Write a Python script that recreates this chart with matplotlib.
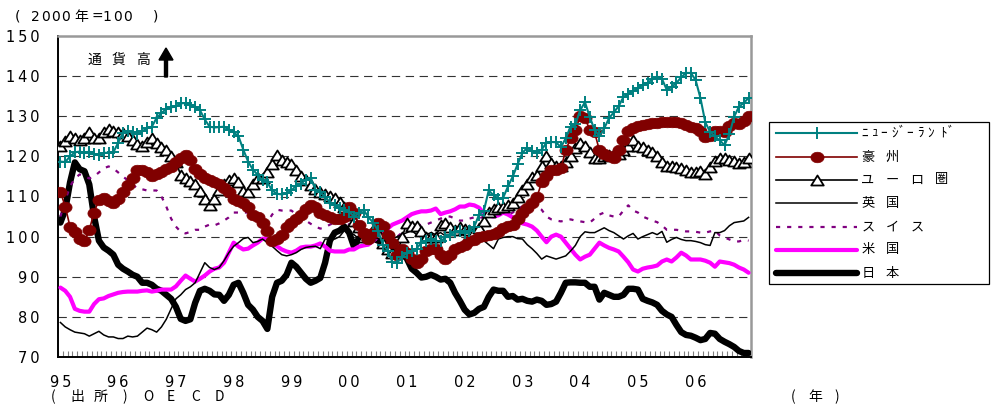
import numpy as np
import matplotlib
matplotlib.use("Agg")
import matplotlib.pyplot as plt
from matplotlib.path import Path
from matplotlib.lines import Line2D
from matplotlib.patches import Rectangle, FancyArrow

plt.rcParams['lines.scale_dashes'] = False

# ---- data: monthly effective exchange rate index (2000 = 100), Jan 1995 - Dec 2006
years = ['95', '96', '97', '98', '99', '00', '01', '02', '03', '04', '05', '06']

nz = [118.7,118.6,120,121,121.2,120.9,121.2,120.5,120.4,120.9,120.9,121,
      123.4,125.9,126.2,126,125.5,126.2,127.1,127.4,129.6,130.8,131.8,132.2,
      132.5,133.2,133.3,132.8,132.3,131.5,129.2,127.4,127.2,127.3,127.4,126.6,
      126,125,121.7,118.7,116.7,115.4,114,113.5,111.5,110.7,110.5,110.8,
      111.5,112.7,113.2,114.2,114.7,111.7,111,110,108.5,107.8,107.2,106.7,
      106.2,105,105.8,106.7,104.8,103.5,101.5,98,96.5,93.6,93.5,95,
      96,96.5,97,98.5,99,99.3,99,98.8,99.8,100.5,101.2,101.3,
      101,101.4,102.5,105.5,106.5,111.5,110.3,109.5,109.7,112.5,115,118,
      120.9,122.1,121.3,120.9,121.7,123.4,123.6,123.5,122.3,124.5,127.4,128,
      131.5,133.5,129.8,126.6,125,127,129.5,131,132.5,134.8,135.6,136.3,
      137,137.8,138.3,139.2,139.7,139.3,136.6,137.3,138.3,139.7,140.8,140.8,
      139,134.5,128.5,126.1,125,124,122.8,125.5,129.9,132.4,133.3,134.6]

aus = [111.2,107.5,102.5,101.2,99.5,98.8,101.7,106,109.2,109.6,109,108.5,
       109.5,111,112.8,114.5,116.7,116.7,116,115,115.5,116,116.8,117.3,
       118.5,119.5,120.4,119,116.8,115.5,114.5,114,113.5,113,112,111,
       109.5,109,108.5,107.5,105.5,104.8,103.5,101.5,99,99.5,100.5,102.5,
       103.5,104.5,105.5,107,107.8,107.3,105.8,105.5,105,104.5,104.3,105,
       107.3,106,103,101,99.3,101,103.5,102.6,100.5,98.5,95.5,97,
       96,94.4,93.5,94.5,96.5,96.8,96.8,95.5,94.4,95.5,96.8,97.4,
       98,98.8,99.2,99.8,100.2,100.4,100.7,101.2,102.2,102.7,103,104.5,
       106,107.2,108.5,109.8,113.5,115,116.7,116.7,117,121.5,124.5,126.5,
       130,129.5,126.6,126,121.5,120.5,120,119.5,121.5,124,126.4,127,
       127.6,127.9,128,128.3,128.4,128.5,128.6,128.6,128.5,128.2,127.9,127.4,
       127,126.2,124.8,125,126.3,126.2,126,127.5,128.3,128,128.8,130]

euro = [122.5,123.8,125,124.5,124.2,124.5,126,124.5,124.5,126,126.7,126.2,
        126,125.8,125,124,123,122.5,123.5,124.5,123.4,122.4,121.5,120,
        118.5,115.4,114.5,113.8,113,111.3,109.5,107.8,109.5,111.5,113,114.2,
        114.5,113.5,111.3,111,113,114.5,114.7,116,118,120.4,119,118.5,
        118,116.5,115.2,114,112.8,111.8,111,110.5,110.2,109.7,108.7,107.5,
        105.5,104,102.3,100,100.5,101.7,101,98.3,96.8,96,95.8,99.8,
        103.5,102.6,102.6,101.5,99.8,99.8,99.8,103,103.5,102.5,101.7,102.3,
        102,101.7,101.2,102.2,103.8,106.2,107,107.5,107.5,108,108.4,110,
        111.5,113,114.8,115.4,117.5,120,118.4,117.5,117.5,118.5,120,122,
        123.4,122.5,121,119.6,119.7,120,120.3,120.5,120.5,121.5,122.6,124,
        122.6,122.3,121.7,121,120,118.5,117.5,117.5,117.4,117.2,116.5,116.2,
        116.2,116.4,115.5,117.3,118.8,119.5,119.7,119.2,118.8,118.4,118.6,119.5]

uk = [78.6,77.5,76.8,76.2,76,75.8,75.2,75.8,76.4,75.5,75,75,
      74.6,74.6,75.2,75,75.2,76.2,77.2,76.8,76.2,77.5,79.4,82,
      84.5,85.5,86.8,87.5,88.5,91,93.5,92.3,91.8,92.3,94,96,
      97.6,98.5,99.5,99.8,98.5,98.8,99.4,98.5,97.6,96.5,95.5,95.2,
      95.5,96,96.8,97.3,97.5,97.6,97,99.4,99.4,99.4,100,101.5,
      101,100.5,99.5,99,99.3,100,100.5,100.2,99,99.5,100,100.5,
      101,101.5,100.5,100,100.5,101,100.5,101,100.2,100.5,100.8,101,
      101,100,99.4,99,99,98,97,99.4,99.8,100,100,99.5,
      99.4,98,97,95.8,94.4,95.2,94.8,94.4,94.8,95.2,96.4,97.8,
      100,101.2,101,101,101.6,102.2,101.5,101,100.2,99.4,100.2,100.8,
      99.4,100,100.5,101,100.5,101.3,98.6,99.3,99.8,99.3,99,99,
      98.8,98.5,98,97.8,101,101,101.5,102.7,103.5,103.7,103.9,104.8]

swiss = [105,109,112.5,114.5,115.5,115,114.5,115,116,117,117.5,117,
         116,115,114,113,112,111.8,111.5,111.5,111.5,110,107.5,104.5,
         102.5,101.2,100.8,101.2,101.7,101.7,102.5,103,102.8,103.3,104,104.8,
         106,106,106,106,106.3,105,104,103.5,105.5,106.7,106.5,106.5,
         106.5,105.5,104.8,104,103.2,102.5,102,102.3,103,103.5,104,104,
         103,102,101,100.5,100,100.3,100,99.5,99,99.5,100,101,
         101.5,102,102.5,103,103,103.5,104,104.5,105,105,104.5,104,
         104,104.5,104.8,104.5,105,106,106.5,106,106,105.5,106,107,
         107.5,107.5,107.5,107.5,106.7,105,104.3,104,103.8,104,104.3,104,
         103.8,103.6,103.5,104.5,105.5,106,105.3,105,105,106.5,107.8,106.5,
         106,105,104.5,104,103.6,102.8,101.7,101.7,101.7,101.5,101.3,101.3,
         101.2,101,101,101.3,101.5,100.3,99.8,99.3,98.8,98.8,99.2,99]

us = [87.3,86.5,85,82,81.5,81.3,81.3,83.2,84.4,84.6,85.2,85.6,
      86,86.2,86.3,86.3,86.3,86.5,86.6,86.3,86.5,86.8,86.8,86.8,
      87.6,89,90.3,89.5,88.8,89.5,90.3,91.3,92,92.3,93.5,96,
      98.5,97.5,96.8,97,97.8,98.5,99.5,99.4,98.5,97.6,96.8,96.3,
      96,96.5,97.3,97.5,97.5,97.8,98.3,97.5,96.5,96.3,96.3,96.3,
      96.8,96.8,97.5,97.8,98,99,100,101,102,103,103.5,104,
      104.8,105.6,106,106.3,106.3,106.5,107,105.6,106,106.3,106.8,107.5,
      107.5,108,107.8,107.2,105.8,105.2,105,105.3,106,105.5,104.8,104,
      103.3,103,102.5,101.5,100,98.6,100,100.5,100,98.5,97,95.5,
      94.3,95,95.5,97,98.5,97.8,97.2,96.8,96.3,95,93.6,91.8,
      91.3,92,92.3,92.5,92.8,93.8,94.3,93.8,94.8,96,95.3,94.3,
      94.3,94.3,94,93.5,92.5,93.8,93.6,93.4,93,92.3,91.8,91]

japan = [103.5,106.7,113.5,118.5,116.8,116.3,113,105,99,97.3,96.5,95.5,
         93,92,91.3,90.5,90,88.5,88.5,88,87,86.5,85.5,84.5,
         82.5,79.5,79,79.4,83.5,86.5,87,86.5,85.6,85.5,84,85.5,
         88,88.5,86,83,81.8,80,79,77,85,88.5,89,90.5,
         93.5,92.5,91,89.5,88.5,89,89.7,93.5,99,101,101.5,102.5,
         101,97.5,99.5,100,100,99.5,99,98.5,98,97.5,97,96,
         94.5,92,91,89.8,90,90.5,90,89.3,89.5,88.5,86,84,
         81.8,80.6,81,82,82.5,85,86.8,86.5,86.5,85,85.2,84.3,
         84.5,84,83.8,84.3,84,83,83.2,83.8,86,88.5,88.6,88.6,
         88.5,88.5,87.5,87.5,84.3,86,85.5,85,85,85.5,87,87,
         86.8,84.5,84,83.6,83,81.5,80.6,80,78,76.2,75.5,75.3,
         74.8,74.2,74.5,76,75.8,74.5,73.8,73.2,72.5,71.5,71,71]

# legend labels, one list of characters per entry
labels = [list('ﾆｭｰｼﾞｰﾗﾝﾄﾞ'), list('豪州'), list('ユーロ圏'), list('英国'),
          list('スイス'), list('米国'), list('日本')]

# ---- figure
W, H = 993, 407
fig = plt.figure(figsize=(W / 100, H / 100), dpi=100)
L, R, T, B = 58, 751, 36, 357
ax = fig.add_axes([L / W, 1 - B / H, (R - L) / W, (B - T) / H])

x = np.arange(len(japan))

# flattened ellipse and triangle marker shapes
th = np.linspace(0, 2 * np.pi, 41)
ellipse = Path(np.column_stack([np.cos(th), 0.8 * np.sin(th)]), closed=True)
tri = Path([(0, 0.8), (-1, -0.8), (1, -0.8), (0, 0.8)], closed=True)

styles = [
    dict(color='#008080', lw=1.5, marker='+', ms=8, mew=1.4),
    dict(color='#800000', lw=1.2, marker=ellipse, ms=9.5,
         mfc='#800000', mec='#800000', mew=0.5),
    dict(color='black', lw=1.2, marker=tri, ms=9, mfc='white',
         mec='black', mew=1.3),
    dict(color='black', lw=1.1),
    dict(color='#800080', lw=1.6, linestyle=(0, (3, 5))),
    dict(color='#FF00FF', lw=3, solid_joinstyle='round',
         solid_capstyle='round'),
    dict(color='black', lw=4.6, solid_joinstyle='round',
         solid_capstyle='round'),
]
series = [nz, aus, euro, uk, swiss, us, japan]

# the last series sits at the bottom of the stack
for k, (vals, st) in enumerate(zip(series, styles)):
    ax.plot(x, vals, zorder=10 - k, **st)

ax.set_xlim(-0.5, len(japan) - 0.5)
ax.set_ylim(70, 150)

# axes frame
for s in ('left', 'bottom'):
    ax.spines[s].set_color('black')
    ax.spines[s].set_linewidth(1.4)
for s in ('top', 'right'):
    ax.spines[s].set_color('#999999')
    ax.spines[s].set_linewidth(1.8)

# dashed horizontal grid
for v in range(80, 150, 10):
    ax.axhline(v, color='#333333', lw=0.8, linestyle=(0, (6, 4)), zorder=1)

# y ticks
yt = list(range(70, 151, 10))
ax.set_yticks(yt)
ax.set_yticklabels(['\u2009'.join(str(v)) for v in yt])
ax.tick_params(axis='y', length=0, pad=13, labelsize=10.5)

# x ticks: year labels at January, small monthly ticks inside
ax.set_xticks(np.arange(0, len(japan), 12))
ax.set_xticklabels(['\u2009'.join(y) for y in years])
ax.tick_params(axis='x', which='major', length=0, pad=13, labelsize=10.5)
ax.set_xticks(np.arange(-0.5, len(japan), 1), minor=True)
ax.tick_params(axis='x', which='minor', direction='in', length=4,
               width=0.8, color='#808080')

jp_font = ['Noto Sans CJK JP', 'DejaVu Sans']


def fx(px):
    return px / W


def fy(py):
    return 1 - py / H


def put_chars(pieces, y_px, size=10, family=None):
    for s, xc in pieces:
        fig.text(fx(xc), fy(y_px), s, ha='center', va='center',
                 fontsize=size, family=family or jp_font)


# header, arrow note and footer texts
put_chars([('(', 17), ('2', 35), ('0', 45), ('0', 55), ('0', 65),
           ('年', 81), ('=', 97), ('1', 107), ('0', 117), ('0', 127),
           (')', 156)], 17, size=10, family=['DejaVu Sans', 'Noto Sans CJK JP'])
put_chars([('通', 94), ('貨', 118.5), ('高', 143)], 60, size=10)
fig.patches.append(FancyArrow(
    fx(166), fy(77), 0, 29 / H, width=3 / W, head_width=14 / W,
    head_length=12 / H, length_includes_head=True, color='black',
    transform=fig.transFigure, figure=fig))
put_chars([('(', 53), ('出', 77), ('所', 101), (')', 125), ('O', 148),
           ('E', 171), ('C', 196), ('D', 219)], 397, size=10)
put_chars([('(', 793), ('年', 815), (')', 837)], 397, size=10)

# legend box
fig.patches.append(Rectangle((fx(769), fy(284)), (989 - 769) / W,
                             (284 - 122) / H, transform=fig.transFigure,
                             figure=fig, facecolor='white', edgecolor='black',
                             lw=0.9))
row_y = [133, 157, 180, 203, 227, 250, 273]
nz_x = [865, 875, 884, 895, 902, 910, 920, 931, 943, 951]
for k, st in enumerate(styles):
    yy = fy(row_y[k])
    line_kw = {kk: vv for kk, vv in st.items()
               if kk not in ('marker', 'ms', 'mfc', 'mec', 'mew')}
    fig.lines.append(Line2D([fx(776), fx(857)], [yy, yy],
                            transform=fig.transFigure, figure=fig, **line_kw))
    if 'marker' in st:
        mk = {kk: vv for kk, vv in st.items()
              if kk in ('color', 'marker', 'ms', 'mfc', 'mec', 'mew')}
        fig.lines.append(Line2D([fx(816.5)], [yy], linestyle='none',
                                transform=fig.transFigure, figure=fig, **mk))
    chars = labels[k]
    if k == 0:
        pieces = list(zip(chars, nz_x))
    else:
        pieces = [(c, 868 + 24.5 * j) for j, c in enumerate(chars)]
    put_chars(pieces, row_y[k], size=9.5)

fig.savefig('out.png', dpi=100)
